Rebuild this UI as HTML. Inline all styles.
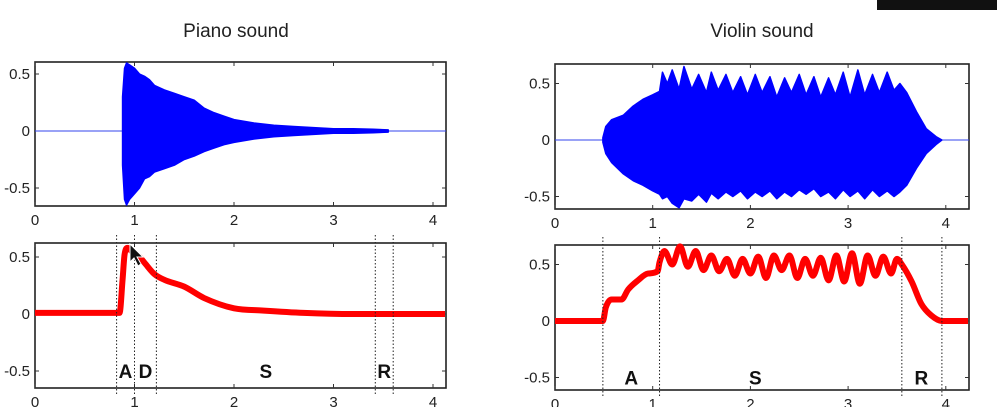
<!DOCTYPE html>
<html><head><meta charset="utf-8"><style>
html,body{margin:0;padding:0;background:#fff;}
svg{display:block;font-family:"Liberation Sans",Arial,sans-serif;}
</style></head><body>
<svg id="c" width="997" height="407" viewBox="0 0 997 407">
<rect x="877" y="0" width="120" height="10" fill="#111"/>
<text x="236" y="37" font-size="19" text-anchor="middle" fill="#222">Piano sound</text>
<text x="762" y="37" font-size="19" text-anchor="middle" fill="#222">Violin sound</text>
</svg>
<script>
// ---- data ----
const xTicks = [0,1,2,3,4];
const yTicks = [0.5,0,-0.5];
const yTickLabels = ["0.5","0","-0.5"];
const pianoWaveT = [0.88,0.9,0.92,0.95,1.0,1.05,1.1,1.15,1.2,1.3,1.4,1.5,1.6,1.7,1.8,1.9,2.0,2.2,2.4,2.6,2.8,3.0,3.2,3.4,3.55];
const pianoWaveUp = [0.3,0.55,0.6,0.58,0.55,0.5,0.48,0.45,0.4,0.36,0.33,0.3,0.27,0.2,0.16,0.13,0.1,0.07,0.05,0.04,0.03,0.02,0.02,0.015,0.01];
const pianoWaveLo = [-0.3,-0.6,-0.65,-0.6,-0.55,-0.5,-0.42,-0.4,-0.36,-0.33,-0.3,-0.25,-0.22,-0.18,-0.15,-0.12,-0.1,-0.07,-0.05,-0.04,-0.03,-0.02,-0.02,-0.015,-0.01];
const violinWaveT = [0.49,0.52,0.58,0.7,0.8,0.9,1.0,1.07,1.1,1.15,1.2,1.27,1.32,1.4,1.47,1.55,1.6,1.67,1.75,1.82,1.9,1.97,2.05,2.12,2.2,2.27,2.35,2.42,2.5,2.57,2.65,2.72,2.8,2.87,2.95,3.02,3.1,3.17,3.25,3.32,3.4,3.47,3.53,3.6,3.7,3.8,3.9,3.96];
const violinWaveUp = [0.02,0.12,0.18,0.22,0.3,0.36,0.4,0.43,0.6,0.5,0.62,0.45,0.65,0.45,0.58,0.42,0.6,0.44,0.58,0.42,0.56,0.4,0.58,0.42,0.56,0.38,0.55,0.42,0.58,0.4,0.56,0.38,0.55,0.4,0.6,0.38,0.62,0.4,0.58,0.42,0.6,0.44,0.5,0.42,0.25,0.1,0.03,0.0];
const violinWaveLo = [-0.02,-0.12,-0.2,-0.3,-0.36,-0.4,-0.45,-0.48,-0.52,-0.5,-0.56,-0.6,-0.52,-0.54,-0.48,-0.55,-0.47,-0.52,-0.46,-0.5,-0.45,-0.52,-0.46,-0.5,-0.45,-0.52,-0.46,-0.5,-0.44,-0.48,-0.43,-0.5,-0.46,-0.52,-0.44,-0.5,-0.45,-0.52,-0.44,-0.5,-0.45,-0.5,-0.46,-0.4,-0.25,-0.12,-0.04,0.0];
const pianoEnvT = [0,0.85,0.88,0.9,0.93,0.96,1.0,1.05,1.1,1.2,1.3,1.5,1.7,2.0,2.3,2.7,3.2,4.13];
const pianoEnvV = [0.01,0.01,0.3,0.52,0.58,0.56,0.52,0.5,0.45,0.35,0.3,0.24,0.14,0.05,0.03,0.01,0.0,0.0];
const violinEnvT = [0,0.49,0.52,0.58,0.68,0.75,0.85,0.95,1.05,1.07,1.12,1.2,1.28,1.36,1.44,1.52,1.6,1.68,1.76,1.84,1.92,2.0,2.08,2.16,2.24,2.32,2.4,2.48,2.56,2.64,2.72,2.8,2.88,2.96,3.04,3.12,3.2,3.28,3.36,3.44,3.5,3.55,3.65,3.75,3.85,3.96,4.25];
const violinEnvV = [0,0,0.12,0.19,0.19,0.28,0.36,0.42,0.44,0.52,0.62,0.5,0.66,0.48,0.62,0.45,0.58,0.44,0.55,0.4,0.55,0.42,0.57,0.38,0.58,0.45,0.58,0.38,0.55,0.4,0.56,0.36,0.58,0.35,0.6,0.33,0.58,0.4,0.57,0.42,0.55,0.5,0.35,0.15,0.05,0.0,0.0];
const pianoMarks = [0.82,1.0,1.22,3.42,3.6];
const pianoLabels = ["A","D","S","R"];
const pianoLabelX = [0.91,1.11,2.32,3.51];
const violinMarks = [0.49,1.07,3.55,3.96];
const violinLabels = ["A","S","R"];
const violinLabelX = [0.78,2.05,3.75];

const NS="http://www.w3.org/2000/svg";
const svg=document.getElementById('c');
function mk(tag,attrs,parent){const e=document.createElementNS(NS,tag);for(const k in attrs)e.setAttribute(k,attrs[k]);(parent||svg).appendChild(e);return e;}

function axes(p,name){
  const g=mk('g',{});
  
  
  p.sx=v=>p.x0+(v)*p.ux; p.sy=v=>p.yz-v*p.uy;
  const box=mk('rect',{x:p.L,y:p.T,width:p.R-p.L,height:p.B-p.T,fill:'#fff',stroke:'#222','stroke-width':1.6},g);
  
  
  xTicks.forEach(t=>{
    const x=p.sx(t);
    mk('line',{x1:x,x2:x,y1:p.B,y2:p.B-4,stroke:'#333'},g);
    mk('line',{x1:x,x2:x,y1:p.T,y2:p.T+4,stroke:'#333'},g);
    const tx=mk('text',{x:x,y:p.B+19,'font-size':15,'text-anchor':'middle',fill:'#222'},g);
    tx.textContent=t;
    
    
  });
  yTicks.forEach((t,i)=>{
    const y=p.sy(t);
    mk('line',{x1:p.L,x2:p.L+4,y1:y,y2:y,stroke:'#333'},g);
    mk('line',{x1:p.R,x2:p.R-4,y1:y,y2:y,stroke:'#333'},g);
    const tx=mk('text',{x:p.L-5,y:y+5,'font-size':15,'text-anchor':'end',fill:'#222'},g);
    tx.textContent=yTickLabels[i];
    
    
  });
  return g;
}
function wave(p,T,U,Lo,name){
  mk('line',{x1:p.L,x2:p.R,y1:p.sy(0),y2:p.sy(0),stroke:'#3344ee','stroke-width':1});
  let pts=T.map((t,i)=>p.sx(t)+','+Math.max(p.T+1,p.sy(U[i])));
  for(let i=T.length-1;i>=0;i--)pts.push(p.sx(T[i])+','+Math.min(p.B-1,p.sy(Lo[i])));
  const pg=mk('polygon',{points:pts.join(' '),fill:'#0000ff',stroke:'#0000ff','stroke-width':1.5,'stroke-linejoin':'round'});
  
  
}
// monotone cubic (Fritsch-Carlson) path, no overshoot
function monotone(P){
  const n=P.length, d=[], m=[];
  for(let i=0;i<n-1;i++)d.push((P[i+1][1]-P[i][1])/(P[i+1][0]-P[i][0]));
  m[0]=d[0]; m[n-1]=d[n-2];
  for(let i=1;i<n-1;i++) m[i]=(d[i-1]*d[i]<=0)?0:(d[i-1]+d[i])/2;
  for(let i=0;i<n-1;i++){
    if(d[i]===0){m[i]=0;m[i+1]=0;continue;}
    const a=m[i]/d[i],b=m[i+1]/d[i],s=a*a+b*b;
    if(s>9){const t=3/Math.sqrt(s);m[i]=t*a*d[i];m[i+1]=t*b*d[i];}
  }
  let s='M'+P[0][0]+','+P[0][1];
  for(let i=0;i<n-1;i++){
    const h=(P[i+1][0]-P[i][0])/3;
    s+=' C'+(P[i][0]+h)+','+(P[i][1]+m[i]*h)+' '+(P[i+1][0]-h)+','+(P[i+1][1]-m[i+1]*h)+' '+P[i+1][0]+','+P[i+1][1];
  }
  return s;
}
function env(p,T,V,marks,labels,lx,name){
  const P=T.map((t,i)=>[Math.min(p.R-1,p.sx(t)),p.sy(V[i])]);
  const pl=mk('path',{d:monotone(P),fill:'none',stroke:'#f00','stroke-width':6,'stroke-linejoin':'round'});
  
  
  marks.forEach(m=>{
    const l=mk('line',{x1:p.sx(m),x2:p.sx(m),y1:p.T-8,y2:p.B+6,stroke:'#222','stroke-width':1,'stroke-dasharray':'1.5,2'});
    
    
  });
  labels.forEach((s,i)=>{
    const t=mk('text',{x:p.sx(lx[i]),y:p.sy(-0.5)+7,'font-size':19,'font-weight':'bold','text-anchor':'middle',fill:'#111'});
    t.textContent=s;
    
    
  });
}
const pTop={L:35,R:446,T:62,B:206,x0:35,ux:99.5,yz:131,uy:114};
const pBot={L:35,R:446,T:243,B:388,x0:35,ux:99.5,yz:314,uy:114};
const vTop={L:555,R:969,T:64,B:209,x0:555,ux:97.7,yz:140,uy:113};
const vBot={L:555,R:969,T:245,B:390,x0:555,ux:97.7,yz:321,uy:113};
axes(pTop,'piano-waveform-axes');wave(pTop,pianoWaveT,pianoWaveUp,pianoWaveLo,'piano-waveform');
axes(pBot,'piano-envelope-axes');env(pBot,pianoEnvT,pianoEnvV,pianoMarks,pianoLabels,pianoLabelX,'piano-envelope');
axes(vTop,'violin-waveform-axes');wave(vTop,violinWaveT,violinWaveUp,violinWaveLo,'violin-waveform');
axes(vBot,'violin-envelope-axes');env(vBot,violinEnvT,violinEnvV,violinMarks,violinLabels,violinLabelX,'violin-envelope');
const cur=mk('polygon',{points:'130,244 130,262 134,258 138,266 141,264 137,257 143,257',fill:'#111',stroke:'#fff','stroke-width':1});


</script>
</body></html>
